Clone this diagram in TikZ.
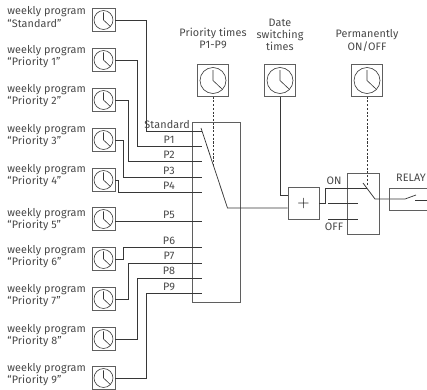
\documentclass[tikz,border=0pt]{standalone}
\usepackage{fontspec}
\setmainfont{Fira Sans}
\usetikzlibrary{positioning,calc}
\definecolor{WireGray}{RGB}{55,55,55}
\definecolor{BoxGray}{RGB}{95,95,95}
\tikzset{
  clockbox/.style={draw=BoxGray,line width=0.6pt,inner sep=0pt,minimum width=#1*2.42pt,minimum height=#1*2.42pt,
    path picture={
      \draw[WireGray,line width=0.45pt] (path picture bounding box.center) circle (#1 pt);
      \draw[WireGray,line width=0.45pt] ([yshift=#1*0.8pt]path picture bounding box.center)
        -- (path picture bounding box.center) -- ++(#1*0.72pt,-#1*0.68pt);
    }},
  wire/.style={draw=WireGray,line width=0.55pt},
  dashwire/.style={draw=WireGray,line width=0.45pt,dash pattern=on 1.6pt off 1.2pt},
  txt/.style={inner sep=0pt,font=\fontsize{8.1pt}{9.1pt}\selectfont\addfontfeatures{LetterSpace=1.0},text=black!72},
  frame/.style={draw=BoxGray,line width=0.65pt,inner sep=0pt},
}
\begin{document}
\begin{tikzpicture}[x=0.75pt,y=-0.75pt]
    \useasboundingbox (0,0) rectangle (427,389);
    % weekly programs down the left side
    \foreach \n/\y/\ly/\name in {s/20/17/Standard,1/60/56.5/Priority 1,2/100/96/Priority 2,3/140/136/Priority 3,4/180/175.5/Priority 4,
      5/219/220/Priority 5,6/259/257/Priority 6,7/299/296/Priority 7,8/339/336/Priority 8,9/378/375/Priority 9}{
      \node[clockbox=7.1] (c\n) at (103.5,\y) {};
      \node[txt,align=left,anchor=west] (l\n) at (7,\ly) {weekly program\\“\name”};
    }
    % selector box and its inputs
    \node[frame,minimum width=36pt,minimum height=135pt] (sel) at (216,212) {};
    \foreach \n/\x/\y in {s/146/131,1/137/146,2/128.5/161,3/123/177,4/118.5/192,6/123/247,7/128.5/263,8/137/278,9/146/293}{
      \coordinate (k\n) at (\x,\y);
      \coordinate (t\n) at (201.5,\y);
      \draw[wire] (c\n.east) -| (k\n) -- (t\n);
    }
    \coordinate (t5) at (201.5,221);
    \draw[wire] (c5.east |- t5) -- (t5);
    \node[txt,anchor=east] (ls) at (190,125) {Standard};
    \foreach \n/\y in {1/140,2/155,3/171,4/186,5/215,6/241,7/256,8/271,9/287}
      \node[txt] (lp\n) at (169,\y) {P\n};
    % clocks along the top
    \node[clockbox=9.75] (prio) at (213,80.5) {};
    \node[clockbox=9.75] (date) at (280,80.5) {};
    \node[clockbox=9.75] (perm) at (367,80.5) {};
    \node[txt,align=center] (lprio) at (213,38) {Priority times\\P1-P9};
    \node[txt,align=center] (ldate) at (280,35) {Date\\switching\\times};
    \node[txt,align=center] (lperm) at (367,40.5) {Permanently\\ON/OFF};
    % adder, switch and relay
    \node[frame,minimum width=23.25pt,minimum height=24pt] (add) at (303.5,203) {\fontsize{13pt}{13pt}\selectfont $+$};
    \node[frame,minimum width=24pt,minimum height=45.75pt] (sw) at (363,203.5) {};
    \coordinate (top) at (201,128);
    \coordinate (knee) at (227.5,208);
    \coordinate (arm) at (213,167);
    \draw[wire] (top) -- (knee) -- (knee -| add.west);
    \draw[dashwire] (prio.south) -- (arm);
    \draw[wire] (date.south) |- (add.west |- 0,195);
    \coordinate (bend) at (325,188);
    \coordinate (on) at (367,188);
    \draw[wire] (add.east) -- (bend |- add.east) -- (bend) -- (on);
    \node[txt] (lon) at (334,181) {ON};
    \node[txt] (loff) at (334,227) {OFF};
    \coordinate (a1) at (328,203);
    \coordinate (a2) at (358,203);
    \coordinate (b1) at (328,219);
    \coordinate (b2) at (358,219);
    \draw[wire] (a1) -- (a2);
    \draw[wire] (b1) -- (b2);
    \coordinate (lever) at (363,183);
    \coordinate (pivot) at (375,199);
    \coordinate (rel) at (405,199);
    \coordinate (blade) at (416,195);
    \coordinate (cont) at (415,200);
    \coordinate (out) at (427,200);
    \draw[wire] (lever) -- (pivot) -- (rel) -- (blade);
    \draw[wire] (cont) -- (out);
    \draw[dashwire] (perm.south) -- (367,186);
    \draw[frame] (427,188) -- (389,188) -- (389,210) -- (427,210);
    \node[txt] (lrelay) at (411,178) {RELAY};
\end{tikzpicture}
\end{document}
